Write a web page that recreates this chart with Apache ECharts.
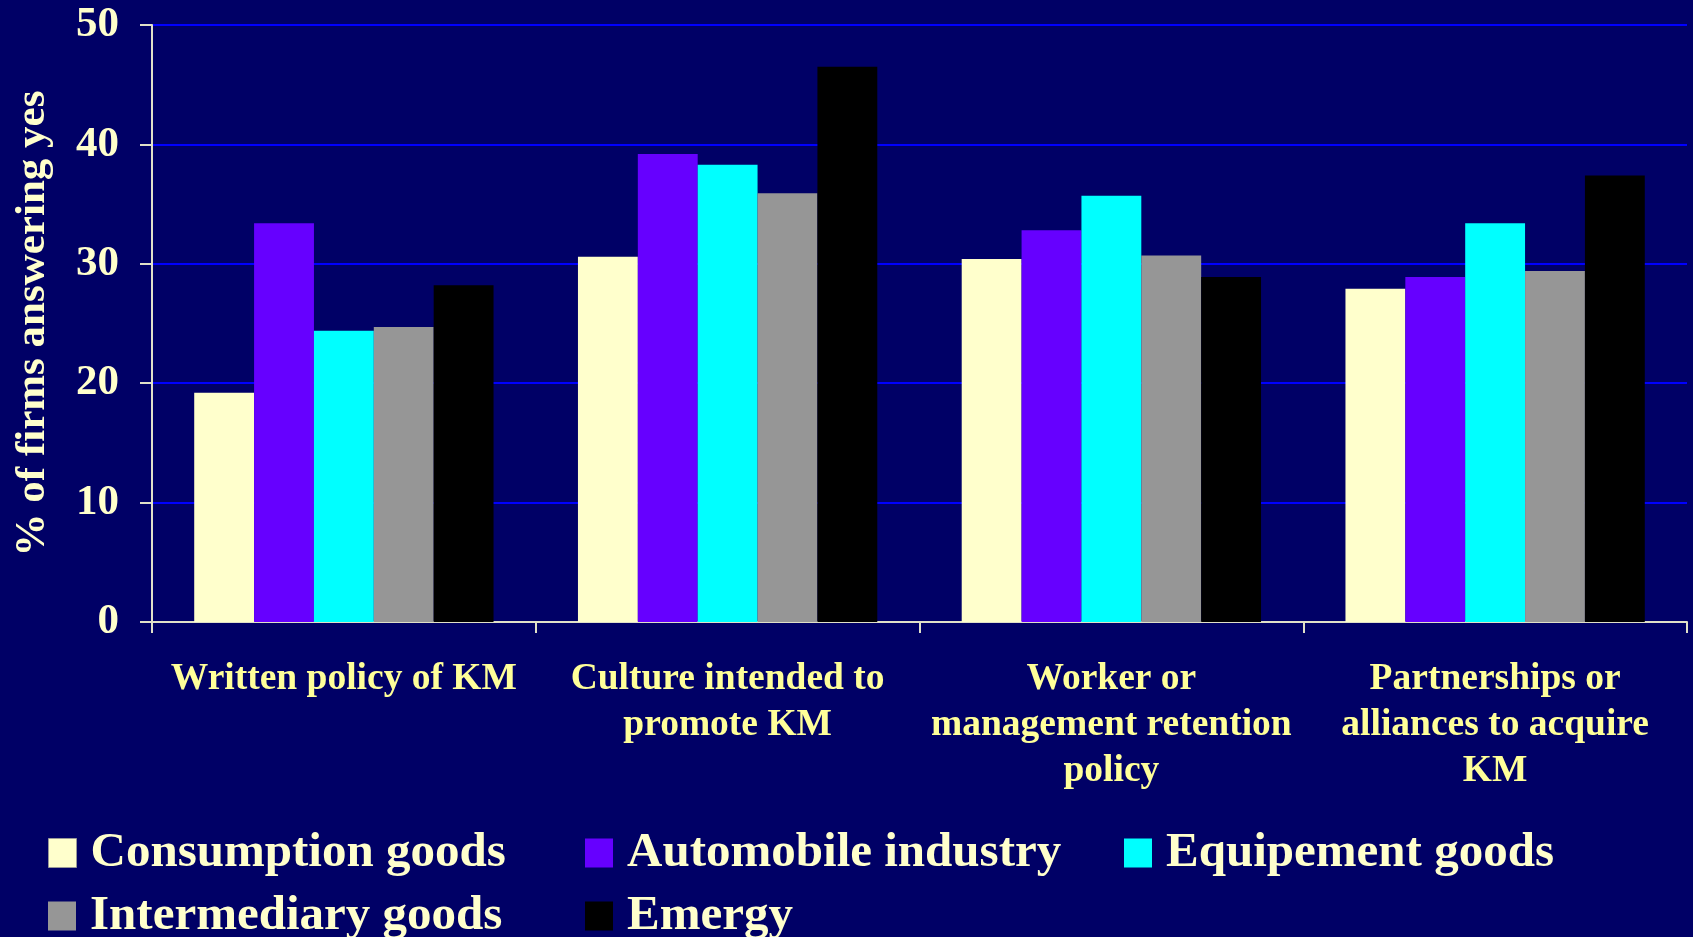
<!DOCTYPE html>
<html>
<head>
<meta charset="utf-8">
<script src="https://cdn.jsdelivr.net/npm/echarts@6/dist/echarts.min.js"></script>
<style>
html,body{margin:0;padding:0;background:#000066;}
#chart{width:1693px;height:937px;}
</style>
</head>
<body>
<div id="chart"></div>
<script>
var categories = ['Written policy of KM', 'Culture intended to\npromote KM', 'Worker or\nmanagement retention\npolicy', 'Partnerships or\nalliances to acquire\nKM'];
var seriesNames = ['Consumption goods', 'Automobile industry', 'Equipement goods', 'Intermediary goods', 'Emergy'];
var consumption = [19.2, 30.6, 30.4, 27.9];
var automobile = [33.4, 39.2, 32.8, 28.9];
var equipement = [24.4, 38.3, 35.7, 33.4];
var intermediary = [24.7, 35.9, 30.7, 29.4];
var emergy = [28.2, 46.5, 28.9, 37.4];
var yTicks = [0, 10, 20, 30, 40, 50];

var colors = ['#FFFFCC', '#6600FF', '#00FFFF', '#969696', '#000000'];
var values = [consumption, automobile, equipement, intermediary, emergy];
var font = '"Liberation Serif", "Times New Roman", serif';

var legendPos = [[48, 828], [585, 828], [1124, 828], [48, 891], [585, 891]];
var legends = seriesNames.map(function (n, i) {
  return {
    data: [n], left: legendPos[i][0], top: legendPos[i][1],
    itemWidth: 28, itemHeight: 29, padding: 0,
    icon: 'rect', selectedMode: false,
    itemStyle: {borderColor: '#999999', borderWidth: i === 0 ? 1 : 0},
    textStyle: {color: '#FFFFCC', fontFamily: font, fontWeight: 'bold', fontSize: 49, lineHeight: 50, padding: [0, 0, 0, 9]}
  };
});

var chart = echarts.init(document.getElementById('chart'));
chart.setOption({
  backgroundColor: '#000066',
  animation: false,
  legend: legends,
  grid: {left: 152, right: 6, top: 25, bottom: 315, containLabel: false},
  xAxis: {
    type: 'category', data: categories,
    axisLine: {lineStyle: {color: '#E0E0C8', width: 2}},
    axisTick: {show: true, length: 11, lineStyle: {color: '#E0E0C8', width: 2}},
    axisLabel: {color: '#FFFF99', fontFamily: font, fontWeight: 'bold', fontSize: 37.5, lineHeight: 46, margin: 34, interval: 0}
  },
  yAxis: {
    type: 'value', min: yTicks[0], max: yTicks[yTicks.length - 1], interval: 10,
    name: '% of firms answering yes', nameLocation: 'middle', nameGap: 98, nameRotate: 90,
    nameTextStyle: {color: '#FFFFCC', fontFamily: font, fontWeight: 'bold', fontSize: 43},
    axisLine: {show: true, lineStyle: {color: '#E0E0C8', width: 2}},
    axisTick: {show: true, length: 12, lineStyle: {color: '#E0E0C8', width: 2}},
    axisLabel: {color: '#FFFFCC', fontFamily: font, fontWeight: 'bold', fontSize: 43, margin: 33},
    splitLine: {show: true, lineStyle: {color: '#0000FF', width: 2}}
  },
  series: seriesNames.map(function (n, i) {
    return {
      name: n, type: 'bar', data: values[i],
      barGap: '0%', barCategoryGap: '22%',
      itemStyle: {color: colors[i]}
    };
  })
});
</script>
</body>
</html>
